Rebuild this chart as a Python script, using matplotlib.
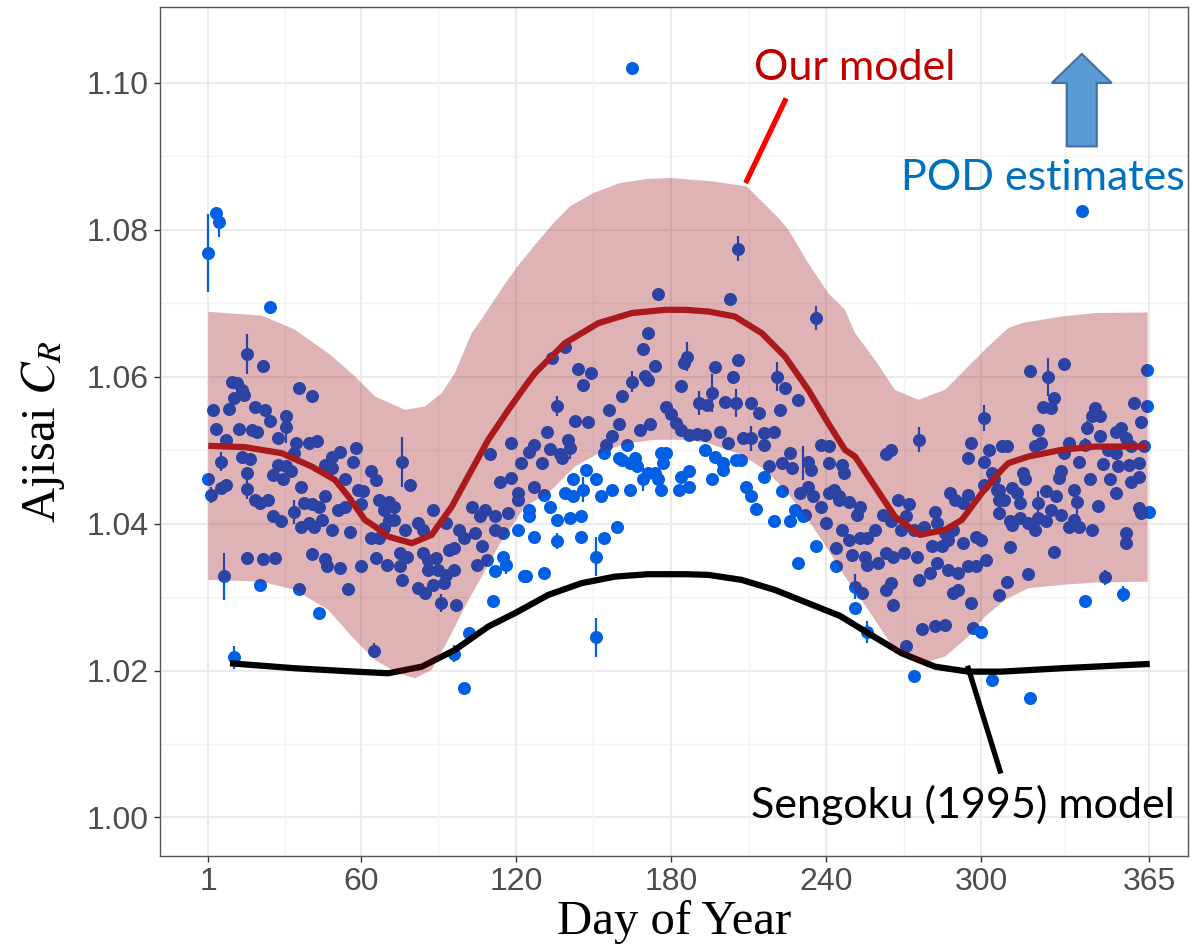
import numpy as np
import matplotlib
matplotlib.use("Agg")
import matplotlib.pyplot as plt
from matplotlib.patches import FancyArrow

# ---------------- data ----------------
pod_day = [
 1,4,5,25,16,22,10,12,14,11,15,36,41,3,9,19,23,25,31,31,4,13,18,20,8,28,35,40,43,14,17,6,34,28,31,33,26,30,16,46,49,52,49,58,57,54,
 1,2,6,8,16,37,19,24,21,38,41,44,46,34,51,54,26,29,37,40,42,45,49,56,16,22,27,41,46,47,52,7,21,36,55,44,11,
 64,66,76,79,59,61,60,67,71,69,73,88,71,73,69,64,67,77,82,84,93,103,108,106,112,117,121,118,114,118,110,98,100,104,107,94,96,112,115,
 75,78,84,86,89,75,76,86,90,93,96,105,109,60,66,70,82,85,88,92,91,97,111,112,116,115,123,65,102,96,100,
 175,134,139,144,149,146,171,169,174,165,161,170,171,184,136,143,148,156,160,168,172,178,180,182,184,132,127,125,122,130,133,137,140,141,138,155,157,163,154,
 160,161,166,164,167,171,169,174,176,178,177,175,183,176,164,157,153,151,147,146,142,139,142,133,136,141,145,125,127,136,145,154,159,151,124,131,151,121,125,121,127,131,
 206,203,236,186,185,197,206,204,196,191,194,201,205,211,214,221,224,229,222,190,193,199,202,208,211,216,220,216,218,223,226,227,233,234,238,241,241,230,233,235,238,241,243,245,232,240,244,
 187,193,197,200,205,207,196,200,187,184,187,209,211,213,220,226,229,236,223,228,231,216,
 301,276,263,265,246,247,296,295,303,301,304,308,243,245,249,253,252,268,272,271,262,282,288,290,295,293,301,306,307,
 246,249,244,253,256,259,265,269,274,278,283,286,289,298,300,293,281,285,287,250,255,256,260,263,266,270,275,276,280,283,287,291,295,298,302,
 251,254,263,265,266,289,291,296,307,251,256,277,282,286,297,300,271,274,304,
 332,319,326,364,328,324,327,359,364,344,343,346,341,322,321,323,310,334,332,338,346,352,354,356,362,363,358,340,349,352,347,353,357,361,
 316,317,331,330,342,350,358,361,305,307,312,314,309,315,325,329,336,337,322,352,345,307,311,312,315,318,321,322,325,327,331,334,336,338,343,
 361,362,365,356,356,311,328,318,310,348,355,340,319,
 165,339,
]
pod_val = [
 1.0768,1.0822,1.0810,1.0695,1.0631,1.0615,1.0593,1.0591,1.0582,1.0571,1.0575,1.0585,1.0573,1.0555,1.0556,1.0559,1.0555,1.0539,1.0547,1.0532,1.0529,1.0529,1.0527,1.0524,1.0514,1.0516,1.0510,1.0510,1.0513,1.0491,1.0488,1.0484,1.0496,1.0480,1.0478,1.0471,1.0466,1.0460,1.0469,1.0480,1.0491,1.0498,1.0475,1.0503,1.0484,1.0460,
 1.0460,1.0439,1.0448,1.0453,1.0447,1.0450,1.0432,1.0432,1.0428,1.0428,1.0426,1.0423,1.0437,1.0416,1.0419,1.0423,1.0410,1.0403,1.0396,1.0401,1.0396,1.0405,1.0391,1.0389,1.0353,1.0352,1.0353,1.0358,1.0352,1.0342,1.0340,1.0328,1.0317,1.0311,1.0311,1.0278,1.0218,
 1.0472,1.0459,1.0484,1.0452,1.0446,1.0444,1.0427,1.0432,1.0430,1.0419,1.0423,1.0419,1.0405,1.0405,1.0394,1.0380,1.0380,1.0391,1.0401,1.0391,1.0401,1.0423,1.0419,1.0410,1.0410,1.0414,1.0432,1.0462,1.0457,1.0510,1.0494,1.0391,1.0380,1.0387,1.0369,1.0364,1.0367,1.0391,1.0387,
 1.0360,1.0355,1.0360,1.0351,1.0353,1.0342,1.0323,1.0337,1.0337,1.0330,1.0337,1.0344,1.0351,1.0342,1.0353,1.0344,1.0312,1.0305,1.0317,1.0319,1.0292,1.0289,1.0294,1.0335,1.0344,1.0355,1.0328,1.0227,1.0251,1.0223,1.0176,
 1.0713,1.0625,1.0640,1.0610,1.0605,1.0589,1.0659,1.0637,1.0615,1.0593,1.0573,1.0601,1.0596,1.0587,1.0560,1.0540,1.0538,1.0554,1.0536,1.0527,1.0536,1.0559,1.0549,1.0537,1.0528,1.0525,1.0507,1.0497,1.0482,1.0482,1.0501,1.0494,1.0514,1.0503,1.0489,1.0507,1.0519,1.0507,1.0496,
 1.0489,1.0487,1.0489,1.0482,1.0478,1.0469,1.0460,1.0469,1.0496,1.0496,1.0482,1.0460,1.0446,1.0446,1.0446,1.0446,1.0437,1.0460,1.0473,1.0446,1.0460,1.0441,1.0437,1.0423,1.0405,1.0407,1.0410,1.0410,1.0382,1.0376,1.0382,1.0380,1.0396,1.0355,1.0328,1.0333,1.0245,1.0441,1.0419,1.0391,1.0450,1.0439,
 1.0774,1.0706,1.0680,1.0627,1.0618,1.0613,1.0622,1.0600,1.0578,1.0564,1.0562,1.0565,1.0564,1.0564,1.0550,1.0600,1.0584,1.0568,1.0554,1.0522,1.0521,1.0524,1.0510,1.0516,1.0516,1.0523,1.0525,1.0507,1.0478,1.0482,1.0496,1.0475,1.0484,1.0473,1.0507,1.0505,1.0482,1.0441,1.0450,1.0437,1.0423,1.0441,1.0446,1.0437,1.0412,1.0401,1.0342,
 1.0521,1.0500,1.0491,1.0482,1.0487,1.0487,1.0460,1.0473,1.0450,1.0464,1.0471,1.0450,1.0437,1.0420,1.0403,1.0403,1.0346,1.0369,1.0444,1.0419,1.0410,1.0464,
 1.0544,1.0514,1.0494,1.0500,1.0480,1.0469,1.0510,1.0489,1.0500,1.0484,1.0469,1.0505,1.0444,1.0432,1.0430,1.0423,1.0412,1.0432,1.0426,1.0410,1.0412,1.0416,1.0441,1.0432,1.0439,1.0428,1.0453,1.0446,1.0432,
 1.0391,1.0378,1.0367,1.0380,1.0380,1.0391,1.0403,1.0391,1.0391,1.0396,1.0401,1.0387,1.0391,1.0382,1.0378,1.0373,1.0369,1.0369,1.0378,1.0357,1.0355,1.0344,1.0346,1.0360,1.0355,1.0360,1.0355,1.0323,1.0333,1.0346,1.0337,1.0333,1.0342,1.0342,1.0351,
 1.0314,1.0305,1.0310,1.0319,1.0289,1.0305,1.0310,1.0292,1.0303,1.0285,1.0253,1.0256,1.0260,1.0262,1.0258,1.0253,1.0233,1.0192,1.0187,
 1.0617,1.0608,1.0599,1.0609,1.0571,1.0559,1.0557,1.0564,1.0560,1.0557,1.0546,1.0546,1.0530,1.0528,1.0506,1.0510,1.0505,1.0510,1.0496,1.0484,1.0519,1.0525,1.0530,1.0516,1.0538,1.0506,1.0505,1.0507,1.0500,1.0496,1.0481,1.0478,1.0480,1.0483,
 1.0469,1.0460,1.0471,1.0462,1.0460,1.0460,1.0456,1.0464,1.0460,1.0446,1.0448,1.0441,1.0432,1.0428,1.0445,1.0437,1.0446,1.0430,1.0428,1.0441,1.0424,1.0414,1.0403,1.0398,1.0407,1.0401,1.0391,1.0407,1.0403,1.0419,1.0412,1.0395,1.0405,1.0395,1.0391,
 1.0421,1.0414,1.0416,1.0387,1.0373,1.0368,1.0361,1.0332,1.0321,1.0327,1.0304,1.0295,1.0162,
 1.1020,1.0826,
]

# points with visible error bars: day, value, half-width
eb_day = [1, 5, 16, 7, 11, 31, 34, 16, 2, 6, 76, 65, 91, 116, 96, 136, 146, 151, 151, 136, 165, 141, 169,
          206, 236, 196, 221, 186, 205, 191, 211, 231, 301, 276, 251, 256, 326, 340, 348, 355, 337, 322, 341]
eb_val = [1.0768, 1.0810, 1.0631, 1.0328, 1.0218, 1.0532, 1.0416, 1.0447, 1.0439, 1.0484, 1.0484, 1.0227, 1.0292,
          1.0344, 1.0223, 1.0560, 1.0446, 1.0355, 1.0245, 1.0376, 1.0593, 1.0503, 1.0460,
          1.0774, 1.0680, 1.0578, 1.0600, 1.0627, 1.0564, 1.0564, 1.0516, 1.0482, 1.0544, 1.0514, 1.0314, 1.0253,
          1.0599, 1.0507, 1.0327, 1.0304, 1.0430, 1.0428, 1.0530]
eb_err = [0.0053, 0.0020, 0.0027, 0.0032, 0.0016, 0.0022, 0.0016, 0.0013, 0.0011, 0.0013, 0.0034, 0.0010, 0.0012,
          0.0012, 0.0012, 0.0013, 0.0017, 0.0027, 0.0026, 0.0011, 0.0014, 0.0015, 0.0015,
          0.0017, 0.0016, 0.0026, 0.0020, 0.0020, 0.0019, 0.0016, 0.0017, 0.0023, 0.0018, 0.0017, 0.0017, 0.0015,
          0.0026, 0.0010, 0.0010, 0.0011, 0.0020, 0.0016, 0.0009]

# "Our model" fit line
fit_day = [1, 15.2, 29.4, 41.0, 50.0, 55.2, 61.6, 65.5, 70.6, 79.7, 87.4, 95.2, 102.9, 109.3, 117.1, 123.5, 127.4,
           139.0, 151.9, 164.8, 177.7, 185.4, 194.4, 204.7, 215.1, 224.1, 233.1, 240.8, 247.3, 251.2, 258.9,
           266.6, 276.3, 286.0, 292.5, 300.2, 307.9, 310.5, 318.2, 331.1, 344.0, 364.6]
fit_val = [1.05058, 1.05040, 1.04958, 1.04776, 1.04595, 1.04368, 1.04050, 1.03959, 1.03823, 1.03733, 1.03846,
           1.04232, 1.04731, 1.05140, 1.05548, 1.05865, 1.06048, 1.06456, 1.06728, 1.06865, 1.06909, 1.06909,
           1.06886, 1.06818, 1.06592, 1.06274, 1.05820, 1.05367, 1.05003, 1.04912, 1.04504, 1.04095, 1.03846,
           1.03914, 1.04050, 1.04414, 1.04731, 1.04822, 1.04912, 1.05003, 1.05048, 1.05048]

# uncertainty band of our model
up_day = [1, 21.7, 34.5, 48.1, 57.8, 65.5, 77.1, 84.8, 91.3, 96.4, 102.9, 107.4, 115.1, 121.6, 128.0, 134.5,
          140.9, 149.9, 160.3, 170.6, 179.6, 196.2, 209.3, 222.2, 225.4, 233.1, 240.8, 247.3, 251.2, 258.9,
          266.6, 275.7, 286.0, 295.0, 302.7, 310.5, 315.7, 331.1, 344.0, 364.4]
up_val = [1.06882, 1.0683, 1.0664, 1.0630, 1.06001, 1.05729, 1.05548, 1.05593, 1.05775, 1.06048, 1.06592,
          1.06818, 1.07227, 1.07545, 1.07818, 1.08090, 1.08316, 1.08498, 1.08635, 1.08689, 1.08703, 1.08656,
          1.08588, 1.08135, 1.07999, 1.07545, 1.07137, 1.06909, 1.06592, 1.06229, 1.05820, 1.05684, 1.05820,
          1.06138, 1.06410, 1.06660, 1.06728, 1.06818, 1.06865, 1.06873]
lo_day = [1, 21.7, 34.5, 47.4, 56.5, 65.5, 74.5, 81.0, 87.4, 93.8, 100.3, 106.8, 113.2, 123.5, 132.5, 142.9,
          153.2, 163.5, 173.8, 185.4, 194.4, 207.3, 216.4, 224.1, 233.1, 240.8, 247.3, 256.3, 266.6, 277.0,
          286.0, 295.0, 301.5, 309.2, 318.2, 331.1, 344.0, 364.4]
lo_val = [1.03234, 1.03210, 1.03097, 1.02825, 1.02462, 1.02144, 1.01963, 1.01895, 1.02008, 1.02417, 1.02870,
          1.03278, 1.03687, 1.04232, 1.04414, 1.04776, 1.04980, 1.05095, 1.05140, 1.05140, 1.05095, 1.04935,
          1.04731, 1.04459, 1.04050, 1.03642, 1.03278, 1.02825, 1.02280, 1.02099, 1.02189, 1.02462, 1.02734,
          1.02961, 1.03120, 1.03165, 1.03197, 1.03210]

# Sengoku (1995) model
sen_day = [9.4, 34.5, 57.8, 70.6, 83.6, 96.4, 109.3, 119.6, 132.5, 145.4, 158.3, 171.2, 185.4, 194.4, 207.3,
           220.2, 233.1, 245.4, 256.3, 269.2, 282.1, 295.0, 307.9, 331.1, 365.2]
sen_val = [1.02099, 1.02031, 1.01985, 1.01963, 1.02053, 1.02280, 1.02598, 1.02780, 1.03029, 1.03189, 1.03278,
           1.03311, 1.03311, 1.03302, 1.03234, 1.03097, 1.02916, 1.02743, 1.02508, 1.02236, 1.02053, 1.01985,
           1.01985, 1.02031, 1.02090]

x_ticks = [1, 60, 120, 180, 240, 300, 365]
x_minor = [30.5, 90, 150, 210, 270, 332.5]
y_ticks = [1.00, 1.02, 1.04, 1.06, 1.08, 1.10]
y_minor = [1.01, 1.03, 1.05, 1.07, 1.09]
y_labels = ["1.00", "1.02", "1.04", "1.06", "1.08", "1.10"]

# ---------------- plot ----------------
plt.rcParams['mathtext.fontset'] = 'stix'
fig = plt.figure(figsize=(12.04, 9.52), dpi=100)
ax = fig.add_axes([160/1204, 1-856/952, 1028/1204, 849/952])

ax.set_xlim(-17.68, 380.0)
ax.set_ylim(0.99476, 1.1103)

for v in y_ticks:
    ax.axhline(v, color='#ebebeb', lw=1.5, zorder=0)
for v in y_minor:
    ax.axhline(v, color='#f3f3f3', lw=1.0, zorder=0)
for v in x_ticks:
    ax.axvline(v, color='#ebebeb', lw=1.5, zorder=0)
for v in x_minor:
    ax.axvline(v, color='#f3f3f3', lw=1.0, zorder=0)

pt_col = '#005fe3'
ax.vlines(eb_day, np.array(eb_val) - np.array(eb_err), np.array(eb_val) + np.array(eb_err),
          color=pt_col, lw=1.6, zorder=2)
ax.scatter(pod_day, pod_val, s=88, color=pt_col, linewidths=0, zorder=3)

ax.plot(sen_day, sen_val, color='black', lw=4.5, solid_capstyle='butt', solid_joinstyle='round', zorder=4)
ax.plot(fit_day, fit_val, color='#b22222', lw=4.5, solid_capstyle='butt', solid_joinstyle='round', zorder=5)

band_x = np.concatenate([up_day, lo_day[::-1]])
band_y = np.concatenate([up_val, lo_val[::-1]])
ax.fill(band_x, band_y, color='#98050f', alpha=0.3, lw=0, zorder=6)

# annotations
ax.plot([209.3, 224.1], [1.08666, 1.09755], color='#ff0000', lw=3.8, zorder=8)
ax.plot([295.0, 307.3], [1.02031, 1.00633], color='black', lw=3.8, zorder=8)
ax.text(250.9, 1.1004, 'Our model', color='#c00000', fontsize=31, family='Lato',
        ha='center', va='baseline', zorder=9)
ax.text(323.8, 1.0854, 'POD estimates', color='#0070c0', fontsize=31, family='Lato',
        ha='center', va='baseline', zorder=9)
ax.text(293.1, 0.99989, 'Sengoku (1995) model', color='black', fontsize=31, family='Lato',
        ha='center', va='baseline', zorder=9)
arr = FancyArrow(338.9, 1.09133, 0, 0.01258, width=11.6, head_width=23.2, head_length=0.00395,
                 length_includes_head=True, facecolor='#5b9bd5', edgecolor='#41719c', lw=1.5, zorder=9)
ax.add_patch(arr)

ax.set_xticks(x_ticks)
ax.set_xticklabels([str(t) for t in x_ticks])
ax.set_yticks(y_ticks)
ax.set_yticklabels(y_labels)
ax.tick_params(axis='both', which='major', length=4, width=1, color='#333333',
               labelsize=23, labelcolor='#4d4d4d', pad=4)
for lab in ax.get_xticklabels() + ax.get_yticklabels():
    lab.set_family('Liberation Sans')
for sp in ax.spines.values():
    sp.set_color('#555555')
    sp.set_linewidth(1.0)

ax.set_xlabel('Day of Year', family='Liberation Serif', fontsize=35, labelpad=2)
ax.set_ylabel('Ajisai $C_R$', family='Liberation Serif', fontsize=35, labelpad=14)

fig.savefig('out.png', dpi=100)
